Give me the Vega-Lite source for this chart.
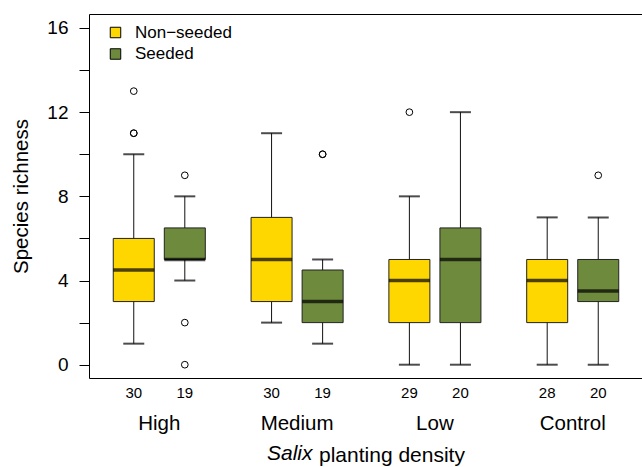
{
  "$schema": "https://vega.github.io/schema/vega-lite/v6.json",
  "width": 554,
  "height": 364,
  "autosize": {"type": "none"},
  "padding": {"left": 89, "top": 14, "right": 0, "bottom": 89},
  "background": "white",
  "config": {
    "font": "Liberation Sans",
    "view": {"stroke": "black", "strokeWidth": 1}
  },
  "title": {
    "text": "Salix",
    "orient": "bottom",
    "anchor": "start",
    "frame": "group",
    "dx": 178,
    "offset": -5,
    "baseline": "alphabetic",
    "fontStyle": "italic",
    "fontWeight": "normal",
    "fontSize": 21,
    "color": "black"
  },
  "datasets": {
    "boxes": [
      {"density": "High", "seeding": "Non−seeded", "n": 30, "lower": 1, "q1": 3, "median": 4.5, "q3": 6, "upper": 10},
      {"density": "High", "seeding": "Seeded", "n": 19, "lower": 4, "q1": 5, "median": 5, "q3": 6.5, "upper": 8},
      {"density": "Medium", "seeding": "Non−seeded", "n": 30, "lower": 2, "q1": 3, "median": 5, "q3": 7, "upper": 11},
      {"density": "Medium", "seeding": "Seeded", "n": 19, "lower": 1, "q1": 2, "median": 3, "q3": 4.5, "upper": 5},
      {"density": "Low", "seeding": "Non−seeded", "n": 29, "lower": 0, "q1": 2, "median": 4, "q3": 5, "upper": 8},
      {"density": "Low", "seeding": "Seeded", "n": 20, "lower": 0, "q1": 2, "median": 5, "q3": 6.5, "upper": 12},
      {"density": "Control", "seeding": "Non−seeded", "n": 28, "lower": 0, "q1": 2, "median": 4, "q3": 5, "upper": 7},
      {"density": "Control", "seeding": "Seeded", "n": 20, "lower": 0, "q1": 3, "median": 3.5, "q3": 5, "upper": 7}
    ],
    "outliers": [
      {"density": "High", "seeding": "Non−seeded", "value": 13},
      {"density": "High", "seeding": "Non−seeded", "value": 11},
      {"density": "High", "seeding": "Non−seeded", "value": 11},
      {"density": "High", "seeding": "Seeded", "value": 9},
      {"density": "High", "seeding": "Seeded", "value": 2},
      {"density": "High", "seeding": "Seeded", "value": 0},
      {"density": "Medium", "seeding": "Seeded", "value": 10},
      {"density": "Medium", "seeding": "Seeded", "value": 10},
      {"density": "Low", "seeding": "Non−seeded", "value": 12},
      {"density": "Control", "seeding": "Seeded", "value": 9}
    ]
  },
  "encoding": {
    "x": {
      "field": "density",
      "type": "nominal",
      "sort": ["High", "Medium", "Low", "Control"],
      "scale": {"paddingInner": 0, "paddingOuter": 0.01},
      "axis": {
        "title": "planting density",
        "titleFontSize": 21,
        "titleFontWeight": "normal",
        "titleColor": "black",
        "titleAlign": "left",
        "titleBaseline": "alphabetic",
        "titleX": 229.5,
        "titleY": 83,
        "labelFontSize": 20.5,
        "labelColor": "black",
        "labelAngle": 0,
        "labelBaseline": "alphabetic",
        "labelPadding": 51,
        "ticks": false,
        "tickSize": 0,
        "domain": false,
        "grid": false
      }
    },
    "xOffset": {
      "field": "seeding",
      "type": "nominal",
      "sort": ["Non−seeded", "Seeded"],
      "scale": {"paddingInner": 0, "paddingOuter": 0.35}
    }
  },
  "layer": [
    {
      "data": {"name": "boxes"},
      "mark": {"type": "rule", "color": "#111111", "strokeWidth": 1},
      "encoding": {
        "y": {
          "field": "lower",
          "type": "quantitative",
          "scale": {"domain": [-0.632, 16.665], "nice": false, "zero": false},
          "axis": {
            "title": "Species richness",
            "titleFontSize": 20.5,
            "titleFontWeight": "normal",
            "titleColor": "black",
            "titlePadding": 15,
            "values": [0, 1, 2, 3, 4, 5, 6, 7, 8, 9, 10, 11, 12, 13, 14, 15, 16],
            "labelExpr": "datum.value % 4 == 0 ? datum.label : ''",
            "labelFontSize": 19,
            "labelColor": "black",
            "labelPadding": 11,
            "tickSize": 10,
            "tickColor": "black",
            "domain": false,
            "grid": false
          }
        },
        "y2": {"field": "upper"}
      }
    },
    {
      "data": {"name": "boxes"},
      "mark": {"type": "tick", "color": "black", "size": 21, "thickness": 2},
      "encoding": {
        "y": {"field": "lower", "type": "quantitative", "scale": {"domain": [-0.632, 16.665], "nice": false, "zero": false}}
      }
    },
    {
      "data": {"name": "boxes"},
      "mark": {"type": "tick", "color": "black", "size": 21, "thickness": 2},
      "encoding": {
        "y": {"field": "upper", "type": "quantitative", "scale": {"domain": [-0.632, 16.665], "nice": false, "zero": false}}
      }
    },
    {
      "data": {"name": "boxes"},
      "mark": {"type": "bar", "width": 41, "stroke": "#222222", "strokeWidth": 1},
      "encoding": {
        "y": {"field": "q1", "type": "quantitative", "scale": {"domain": [-0.632, 16.665], "nice": false, "zero": false}},
        "y2": {"field": "q3"},
        "color": {
          "field": "seeding",
          "type": "nominal",
          "sort": ["Non−seeded", "Seeded"],
          "scale": {"domain": ["Non−seeded", "Seeded"], "range": ["#FFD700", "#6E8B3D"]},
          "legend": {
            "title": null,
            "orient": "none",
            "legendX": 18,
            "legendY": 10,
            "symbolType": "square",
            "symbolSize": 110,
            "symbolStrokeColor": "black",
            "symbolStrokeWidth": 1,
            "labelFontSize": 17,
            "labelColor": "black",
            "labelOffset": 11,
            "rowPadding": 3.5
          }
        }
      }
    },
    {
      "data": {"name": "boxes"},
      "mark": {"type": "tick", "color": "black", "size": 41, "thickness": 3.5},
      "encoding": {
        "y": {"field": "median", "type": "quantitative", "scale": {"domain": [-0.632, 16.665], "nice": false, "zero": false}}
      }
    },
    {
      "data": {"name": "outliers"},
      "mark": {"type": "point", "shape": "circle", "filled": false, "color": "black", "strokeWidth": 1, "size": 45, "opacity": 1},
      "encoding": {
        "y": {"field": "value", "type": "quantitative", "scale": {"domain": [-0.632, 16.665], "nice": false, "zero": false}}
      }
    },
    {
      "data": {"name": "boxes"},
      "mark": {"type": "text", "fontSize": 15, "color": "black", "baseline": "alphabetic", "align": "center"},
      "encoding": {
        "y": {"datum": -1.582, "type": "quantitative", "scale": {"domain": [-0.632, 16.665], "nice": false, "zero": false}},
        "text": {"field": "n", "type": "quantitative"}
      }
    }
  ]
}
